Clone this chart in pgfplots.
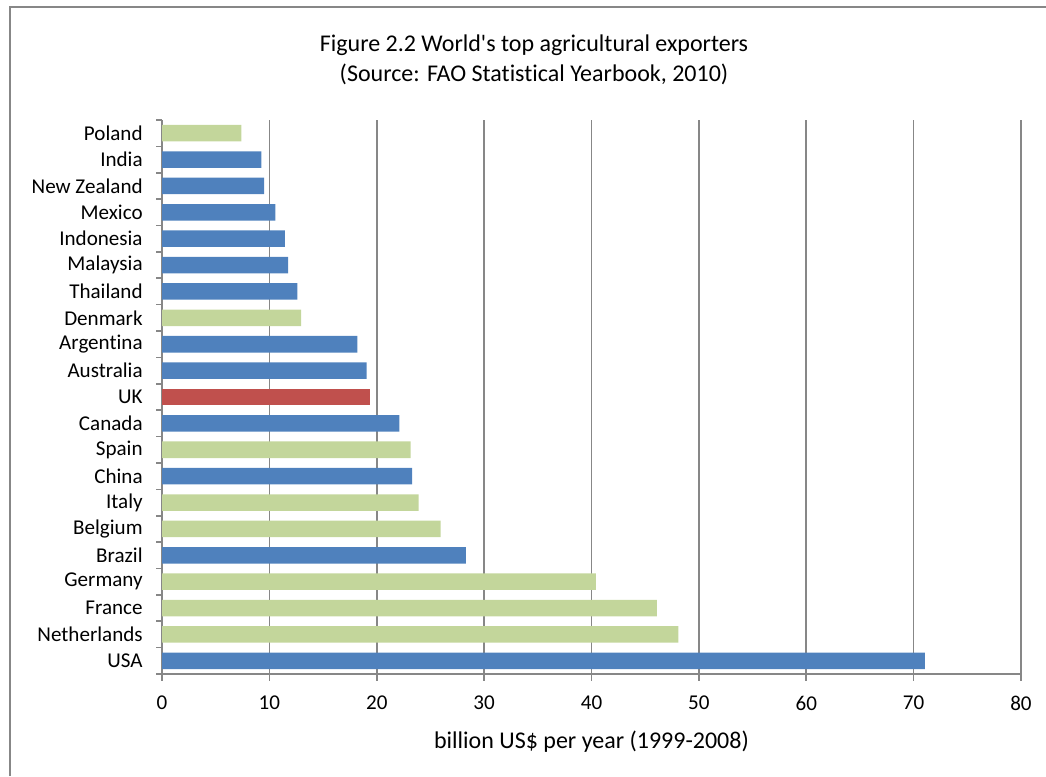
\documentclass[border=0pt]{standalone}
\usepackage{pgfplots}
\pgfplotsset{compat=1.18}
\usepackage{fontspec}
\setmainfont{Carlito}[Ligatures={TeXOff,NoCommon}]
\definecolor{xblue}{HTML}{4F81BD}
\definecolor{xgreen}{HTML}{C3D69B}
\definecolor{xred}{HTML}{C0504D}
\definecolor{xgray}{HTML}{878787}
\begin{document}
\begin{tikzpicture}[x=1pt,y=1pt]
\useasboundingbox (0,0) rectangle (784.5,582);
\draw[xgray, line width=1.5pt] (7.5,0) -- (7.5,576.75) -- (784.5,576.75);
\node[font=\fontsize{18}{22}\selectfont] at (400.5,548.25) {Figure 2.2 World's top agricultural exporters};
\node[font=\fontsize{18}{22}\selectfont] at (400.5,526.5) {(Source: FAO Statistical Yearbook, 2010)};
\begin{axis}[
  at={(121.5pt,76.5pt)}, anchor=south west,
  scale only axis, width=644.25pt, height=415.5pt,
  xbar, bar shift=0pt, bar width=12.4pt,
  xmin=0, xmax=80, ymin=-0.5, ymax=20.5,
  xtick={0,10,...,80},
  ytick={0,...,20},
  yticklabels={USA,Netherlands,France,Germany,Brazil,Belgium,Italy,China,Spain,Canada,UK,Australia,Argentina,Denmark,Thailand,Malaysia,Indonesia,Mexico,New Zealand,India,Poland},
  minor ytick={-0.5,0.5,...,20.5},
  tick align=outside,
  major tick length=5pt, minor tick length=4.5pt,
  major y tick style={draw=none},
  minor y tick style={xgray, line width=1.2pt},
  major x tick style={xgray, line width=1.2pt},
  axis x line*=bottom, axis y line*=left,
  axis line style={xgray, line width=1.2pt},
  xmajorgrids, grid style={xgray, line width=1.2pt},
  tick label style={font=\fontsize{15.8}{18}\selectfont},
  yticklabel style={xshift=-6pt},
  xticklabel style={yshift=-8pt},
  /pgf/number format/assume math mode=true,
  xlabel={billion US\$ per year (1999-2008)},
  xlabel style={font=\fontsize{18}{21}\selectfont, at={(axis description cs:0.5,0)}, anchor=center, yshift=-51pt},
  clip=false,
]
\addplot[fill=xblue, draw=none] coordinates {(71.05,0) (28.3,4) (23.3,7) (22.1,9) (19.06,11) (18.2,12) (12.6,14) (11.75,15) (11.45,16) (10.55,17) (9.5,18) (9.25,19)};
\addplot[fill=xgreen, draw=none] coordinates {(48.1,1) (46.1,2) (40.4,3) (25.96,5) (23.9,6) (23.16,8) (12.95,13) (7.4,20)};
\addplot[fill=xred, draw=none] coordinates {(19.34,10)};
\end{axis}
\end{tikzpicture}
\end{document}
